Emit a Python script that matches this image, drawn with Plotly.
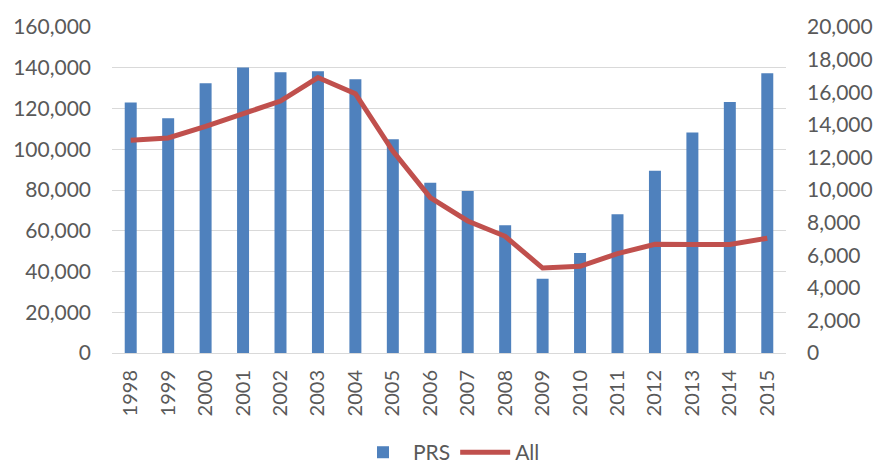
import plotly.graph_objects as go

# Annual counts, 1998-2015
years = [str(y) for y in range(1998, 2016)]
prs = [122900, 115200, 132400, 140100, 137800, 138300, 134300, 104900, 83600,
       79500, 62700, 36500, 49100, 68100, 89500, 108200, 123200, 137300]
all_series = [13050, 13190, 13900, 14690, 15460, 16900, 15910, 12390, 9530,
              8100, 7160, 5210, 5320, 6100, 6670, 6650, 6660, 7040]

left_ticks = list(range(0, 160001, 20000))
right_ticks = list(range(0, 20001, 2000))

FONT = "Lato"
TXT = "#595959"
GRID = "#D9D9D9"

fig = go.Figure()
fig.add_trace(go.Bar(x=years, y=prs, name="PRS", marker_color="#4F81BD",
                     marker_line_width=0, yaxis="y"))
fig.add_trace(go.Scatter(x=years, y=all_series, name="All", mode="lines",
                         line=dict(color="#C0504D", width=5), yaxis="y2"))

fig.update_layout(
    width=877, height=469,
    margin=dict(l=112, r=91, t=27, b=116, autoexpand=False),
    plot_bgcolor="white", paper_bgcolor="white",
    font=dict(family=FONT, size=21, color=TXT),
    bargap=0.68,
    showlegend=True,
    legend=dict(orientation="h", x=0.5, xanchor="center",
                yref="container", y=0.035, yanchor="middle",
                font=dict(size=21, color=TXT), traceorder="normal",
                itemwidth=50),
    xaxis=dict(type="category", tickangle=-90, showline=True, linecolor=GRID,
               linewidth=1, ticks="", tickfont=dict(size=20),
               ticklabelstandoff=8, automargin=False),
    yaxis=dict(range=[0, 160000], tickvals=left_ticks,
               ticktext=[f"{v:,}" for v in left_ticks],
               showgrid=True, gridcolor=GRID, gridwidth=1, zeroline=False,
               ticklabelstandoff=20, automargin=False),
    yaxis2=dict(range=[0, 20000], tickvals=right_ticks,
                ticktext=[f"{v:,}" for v in right_ticks],
                overlaying="y", side="right", showgrid=False, zeroline=False,
                ticklabelstandoff=20, automargin=False),
)

fig.write_html("out.html")
